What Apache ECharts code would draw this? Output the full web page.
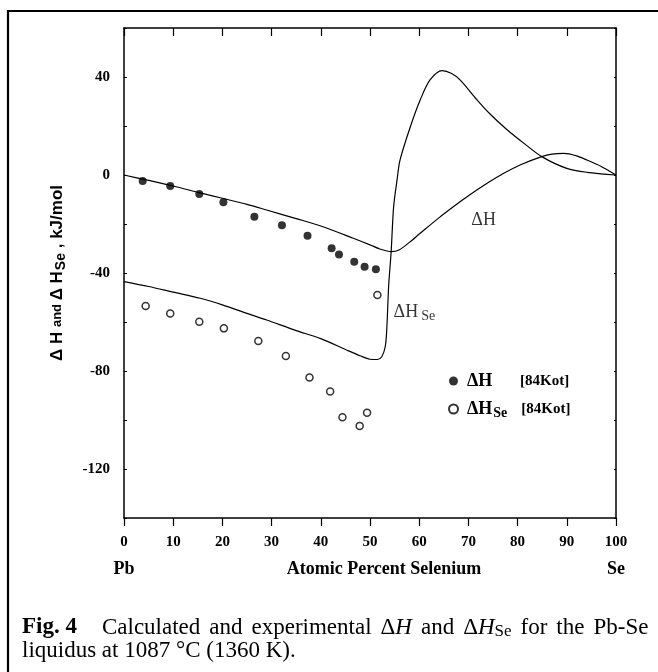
<!DOCTYPE html>
<html>
<head>
<meta charset="utf-8">
<script src="https://cdn.jsdelivr.net/npm/echarts@6/dist/echarts.min.js"></script>
<style>
  html, body { margin: 0; padding: 0; background: #fff; }
  #chart { width: 658px; height: 672px; }
</style>
</head>
<body>
<div id="chart"></div>
<script>
// calculated curves (atomic % Se, kJ/mol)
const calcHX = [0, 5, 10, 15.5, 20, 25, 29, 35, 40, 46.6, 50, 52, 54.3, 56, 58, 60.2, 64, 67, 70, 73.8, 77, 80.5, 84.9, 87, 89.4, 92, 94.1, 97, 100];
const calcHY = [0, -2.2, -4.5, -7.3, -9.5, -12, -14.3, -17.8, -20.8, -25.8, -28.5, -30.2, -31.3, -30.5, -27.5, -23.8, -17.5, -12.9, -8.5, -3.4, 0.5, 4.1, 7.5, 8.5, 8.8, 7.8, 6.1, 3.5, 0];
const calcHSeX = [0, 5, 10, 15.5, 20, 25, 29, 35, 40, 45, 48, 50, 51.5, 52.4, 53.1, 53.4, 53.8, 54.3, 54.8, 55.5, 56.1, 58.2, 60.2, 62.2, 64.7, 66.5, 68.3, 71.7, 74.5, 77.8, 81.5, 84.9, 90, 94.1, 100];
const calcHSeY = [-43.5, -45.5, -47.8, -50.3, -53, -56.5, -59.2, -63.5, -66.8, -71.2, -73.8, -75.2, -75.3, -74.2, -70, -63.3, -45, -31.3, -13, -2, 6.1, 19.7, 30.6, 38.8, 42.6, 41.5, 38.8, 30.8, 24.7, 18.6, 12.6, 7.5, 2.7, 1.1, 0];

// experimental points [84Kot]
const expHX = [3.8, 9.4, 15.3, 20.2, 26.5, 32.1, 37.3, 42.2, 43.7, 46.8, 48.9, 51.2];
const expHY = [-2.4, -4.5, -7.8, -11.1, -17.0, -20.5, -24.8, -29.9, -32.4, -35.4, -37.4, -38.5];
const expHSeX = [4.4, 9.4, 15.3, 20.3, 27.3, 32.9, 37.7, 41.9, 44.4, 47.9, 49.4, 51.5];
const expHSeY = [-53.5, -56.5, -59.9, -62.6, -67.8, -73.9, -82.7, -88.4, -98.9, -102.4, -97, -49];

const xTicks = [0, 10, 20, 30, 40, 50, 60, 70, 80, 90, 100];
const yTicks = [-120, -80, -40, 0, 40];

const zip = (xs, ys) => xs.map((x, i) => [x, ys[i]]);

const serif = '"Liberation Serif", "Times New Roman", serif';
const sans = '"Liberation Sans", Arial, sans-serif';

const chart = echarts.init(document.getElementById('chart'), null, { renderer: 'canvas' });

const frameLine = { onZero: false, lineStyle: { color: '#000', width: 1.5 } };

const option = {
  animation: false,
  backgroundColor: '#fff',
  grid: { left: 124, right: 42, top: 28, bottom: 154 },
  xAxis: [
    {
      type: 'value', min: 0, max: 100, interval: 10, position: 'bottom',
      axisLine: frameLine,
      axisTick: { inside: false, length: 8, lineStyle: { color: '#000', width: 1.2 } },
      axisLabel: {
        margin: 17, color: '#000', fontFamily: serif, fontWeight: 'bold', fontSize: 15,
        formatter: v => (xTicks.includes(v) ? String(v) : '')
      },
      splitLine: { show: false }
    },
    {
      type: 'value', min: 0, max: 100, interval: 10, position: 'top',
      axisLine: frameLine,
      axisTick: { inside: true, length: 8, lineStyle: { color: '#000', width: 1.2 } },
      axisLabel: { show: false },
      splitLine: { show: false }
    },
    {
      // second label row: Pb ... Atomic Percent Selenium ... Se
      type: 'value', min: 0, max: 100, interval: 50, position: 'bottom', offset: 30,
      axisLine: { show: false, onZero: false },
      axisTick: { show: false },
      axisLabel: {
        color: '#000', fontFamily: serif, fontWeight: 'bold', fontSize: 18, margin: 12,
        formatter: v => (v === 0 ? 'Pb' : v === 100 ? 'Se' : '{c|Atomic Percent Selenium}'),
        rich: { c: { fontFamily: serif, fontWeight: 'bold', fontSize: 18, color: '#000', padding: [0, 0, 0, 28] } }
      },
      splitLine: { show: false }
    }
  ],
  yAxis: [
    {
      type: 'value', min: -140, max: 60, interval: 20, position: 'left',
      axisLine: frameLine,
      axisTick: { inside: true, length: 3, lineStyle: { color: '#000', width: 1 } },
      axisLabel: {
        margin: 14, color: '#000', fontFamily: serif, fontWeight: 'bold', fontSize: 15,
        formatter: v => (yTicks.includes(v) ? String(v) : '')
      },
      splitLine: { show: false },
      name: '{a|\u0394 H }{b|and }{a|\u0394 H}{s|Se}{a| , kJ/mol}',
      nameLocation: 'middle',
      nameGap: 56,
      nameTextStyle: {
        color: '#000',
        rich: {
          a: { fontFamily: sans, fontWeight: 'bold', fontSize: 17, color: '#000' },
          b: { fontFamily: sans, fontWeight: 'bold', fontSize: 13, color: '#000' },
          s: { fontFamily: sans, fontWeight: 'bold', fontSize: 14, color: '#000', padding: [8, 0, 0, 1] }
        }
      }
    },
    {
      type: 'value', min: -140, max: 60, interval: 20, position: 'right',
      axisLine: frameLine,
      axisTick: { inside: true, length: 2, lineStyle: { color: '#000', width: 1 } },
      axisLabel: { show: false },
      splitLine: { show: false }
    }
  ],
  legend: {
    left: 443, top: 367, orient: 'vertical', itemGap: 10,
    itemWidth: 9, itemHeight: 9,
    data: ['\u0394H', '\u0394H_Se'],
    formatter: name => (name === '\u0394H' ? '{n1|\u0394H}{r|[84Kot]}' : '{n|\u0394H}{s|Se}{r|[84Kot]}'),
    textStyle: {
      color: '#000',
      rich: {
        n1: { fontFamily: serif, fontWeight: 'bold', fontSize: 18, color: '#000', width: 53, padding: [0, 0, 0, 4] },
        n: { fontFamily: serif, fontWeight: 'bold', fontSize: 18, color: '#000', padding: [0, 0, 0, 4] },
        s: { fontFamily: serif, fontWeight: 'bold', fontSize: 14, color: '#000', width: 28, padding: [8, 0, 0, 1] },
        r: { fontFamily: serif, fontWeight: 'bold', fontSize: 15, color: '#000' }
      }
    }
  },
  series: [
    {
      name: 'calc \u0394H', type: 'line', data: zip(calcHX, calcHY),
      smooth: 0.3, showSymbol: false, lineStyle: { color: '#000', width: 1.2 }
    },
    {
      name: 'calc \u0394H_Se', type: 'line', data: zip(calcHSeX, calcHSeY),
      smooth: 0.3, showSymbol: false, lineStyle: { color: '#000', width: 1.2 }
    },
    {
      name: '\u0394H', type: 'scatter', data: zip(expHX, expHY),
      symbol: 'circle', symbolSize: 8, itemStyle: { color: '#000' }
    },
    {
      name: '\u0394H_Se', type: 'scatter', data: zip(expHSeX, expHSeY),
      symbol: 'circle', symbolSize: 7,
      itemStyle: { color: '#fff', borderColor: '#000', borderWidth: 1.5 }
    },
    {
      name: 'curve labels', type: 'scatter', symbolSize: 0, silent: true,
      data: [
        { value: [70.6, -18.4], label: { formatter: '{n|\u0394H}' } },
        { value: [54.8, -56.2], label: { formatter: '{n|\u0394H}{s|Se}' } }
      ],
      label: {
        show: true, position: 'right', distance: 0, color: '#000',
        rich: {
          n: { fontFamily: serif, fontSize: 18, color: '#000' },
          s: { fontFamily: serif, fontSize: 14, color: '#000', padding: [8, 0, 0, 3] }
        }
      }
    }
  ],
  graphic: [
    {
      type: 'rect', silent: true,
      shape: { x: 8, y: 11, width: 680, height: 700 },
      style: { fill: 'none', stroke: '#000', lineWidth: 2.2 }
    },
    {
      type: 'text', left: 22, top: 616,
      style: {
        text: '{b|Fig. 4}{g| }{t|Calculated}{p| }{t|and}{p| }{t|experimental}{p| }{t|\u0394}{i|H}{p| }{t|and}{p| }{t|\u0394}{i|H}{u|Se}{p| }{t|for}{p| }{t|the}{p| }{t|Pb-Se}',
        rich: {
          b: { fontFamily: serif, fontWeight: 'bold', fontSize: 23, fill: '#000' },
          g: { fontFamily: serif, fontSize: 23, width: 25 },
          p: { fontFamily: serif, fontSize: 23, width: 9 },
          t: { fontFamily: serif, fontSize: 23, fill: '#000' },
          i: { fontFamily: serif, fontStyle: 'italic', fontSize: 23, fill: '#000' },
          u: { fontFamily: serif, fontSize: 17, fill: '#000', padding: [9, 0, 0, 0] }
        }
      }
    },
    {
      type: 'text', left: 22, top: 639,
      style: { text: 'liquidus at 1087 \u00b0C (1360 K).', font: '23px ' + serif, fill: '#000' }
    }
  ]
};

chart.setOption(option);
</script>
</body>
</html>
